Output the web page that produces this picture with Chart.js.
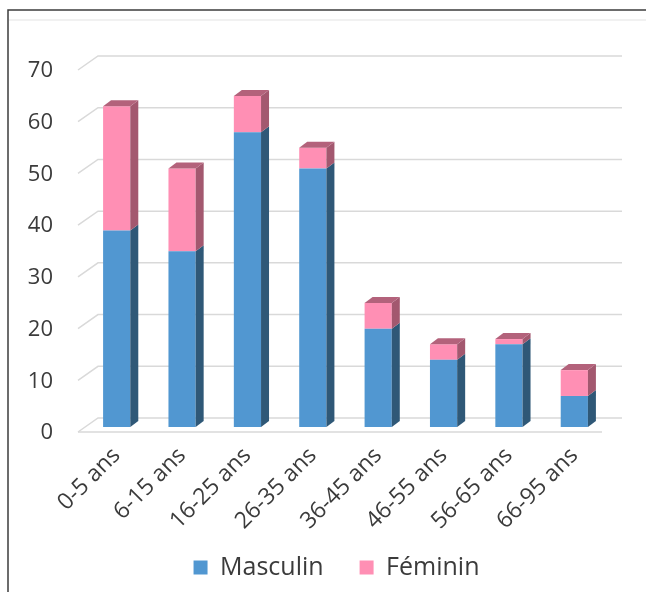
<!DOCTYPE html>
<html lang="fr">
<head>
<meta charset="utf-8">
<title>Répartition par âge et sexe</title>
<script src="https://cdn.jsdelivr.net/npm/chart.js@4.4.1/dist/chart.umd.min.js"></script>
<style>
  html, body { margin: 0; padding: 0; background: #ffffff; }
  #wrap { width: 646px; height: 592px; position: relative; }
</style>
</head>
<body>
<div id="wrap"><canvas id="ageChart" width="646" height="592"></canvas></div>
<script>
// Data
const categories = ["0-5 ans", "6-15 ans", "16-25 ans", "26-35 ans", "36-45 ans", "46-55 ans", "56-65 ans", "66-95 ans"];
const masculin = [38, 34, 57, 50, 19, 13, 16, 6];
const feminin = [24, 16, 7, 4, 5, 3, 1, 5];
const yTicks = [0, 10, 20, 30, 40, 50, 60, 70];

const TEXT_COLOR = "#3b3b3b";
const FONT = "'Open Sans', 'DejaVu Sans', sans-serif";

// colours for the fake 3D faces
const sideColors = ["#2f5877", "#a3586f"];
const topColor = "#b3627b";

// Draws the frame, the back wall grid and the y labels, then the bar sides
const depthPlugin = {
  id: "depth3d",
  afterLayout(chart) {
    // legend sits a bit right of centre and a little higher in the original
    const lg = chart.legend;
    if (lg) {
      lg.left += 33;
      lg.right += 33;
      lg.top -= 14;
      lg.bottom -= 14;
    }
  },
  beforeDraw(chart) {
    const ctx = chart.ctx;
    ctx.save();
    // thin light line under the frame
    ctx.strokeStyle = "#ededed";
    ctx.lineWidth = 1.5;
    ctx.beginPath();
    ctx.moveTo(9, 20);
    ctx.lineTo(646, 20);
    ctx.stroke();
    // frame
    ctx.strokeStyle = "#3c3c3c";
    ctx.lineWidth = 1.5;
    ctx.beginPath();
    ctx.moveTo(646, 10);
    ctx.lineTo(8, 10);
    ctx.lineTo(8, 592);
    ctx.stroke();
    ctx.restore();
  },
  beforeDatasetsDraw(chart) {
    const { ctx, chartArea } = chart;
    const yScale = chart.scales.y;
    const { left, right } = chartArea;
    ctx.save();
    ctx.strokeStyle = "#d9d9d9";
    ctx.lineWidth = 1.5;
    yTicks.forEach((v) => {
      const y = yScale.getPixelForValue(v);
      ctx.beginPath();
      ctx.moveTo(left - 6, y + 5);
      ctx.lineTo(left + 14, y - 9);
      ctx.lineTo(right + 15, y - 9);
      ctx.stroke();
      if (v === 0) {
        // front edge of the floor
        ctx.beginPath();
        ctx.moveTo(left - 6, y + 5);
        ctx.lineTo(right - 5, y + 5);
        ctx.stroke();
      }
    });
    // y labels sit on the front plane
    ctx.fillStyle = TEXT_COLOR;
    ctx.font = "22px " + FONT;
    ctx.textAlign = "right";
    ctx.textBaseline = "middle";
    yTicks.forEach((v) => {
      ctx.fillText(String(v), 53, yScale.getPixelForValue(v) + 6);
    });
    ctx.restore();
  },
  afterDatasetsDraw(chart) {
    const ctx = chart.ctx;
    const dx = 8, dy = 6;
    const last = chart.data.datasets.length - 1;
    ctx.save();
    chart.data.datasets.forEach((ds, i) => {
      const meta = chart.getDatasetMeta(i);
      meta.data.forEach((bar) => {
        const { x, y, base, width } = bar.getProps(["x", "y", "base", "width"], true);
        const l = x - width / 2;
        const r = x + width / 2;
        // side face
        ctx.fillStyle = sideColors[i];
        ctx.beginPath();
        ctx.moveTo(r, y);
        ctx.lineTo(r + dx, y - dy);
        ctx.lineTo(r + dx, base - dy);
        ctx.lineTo(r, base);
        ctx.closePath();
        ctx.fill();
        // top face only on the upper segment
        if (i === last) {
          ctx.fillStyle = topColor;
          ctx.beginPath();
          ctx.moveTo(l, y);
          ctx.lineTo(l + dx, y - dy);
          ctx.lineTo(r + dx, y - dy);
          ctx.lineTo(r, y);
          ctx.closePath();
          ctx.fill();
        }
      });
    });
    ctx.restore();
  },
};

function buildChart() {
  const canvas = document.getElementById("ageChart");
  const ctx = canvas.getContext("2d");

  return new Chart(ctx, {
    type: "bar",
    data: {
      labels: categories,
      datasets: [
        {
          label: "Masculin",
          data: masculin,
          backgroundColor: "#5197d1",
          borderWidth: 0,
        },
        {
          label: "Féminin",
          data: feminin,
          backgroundColor: "#ff8fb4",
          borderWidth: 0,
        },
      ],
    },
    options: {
      responsive: false,
      animation: false,
      events: [],
      barPercentage: 0.52,
      categoryPercentage: 0.8,
      layout: { padding: { top: 65, right: 39, bottom: 2, left: 0 } },
      scales: {
        x: {
          stacked: true,
          grid: { display: false },
          border: { display: false },
          ticks: {
            color: TEXT_COLOR,
            font: { family: FONT, size: 23 },
            minRotation: 45,
            maxRotation: 45,
            padding: 7,
          },
          afterFit(scale) {
            scale.height = 106;
          },
        },
        y: {
          stacked: true,
          min: 0,
          max: 70,
          grid: { display: false },
          border: { display: false },
          ticks: { display: false, stepSize: 10 },
          afterFit(scale) {
            scale.width = 84;
          },
        },
      },
      plugins: {
        legend: {
          position: "bottom",
          maxHeight: 57,
          labels: {
            color: TEXT_COLOR,
            font: { family: FONT, size: 25 },
            boxWidth: 14,
            boxHeight: 14,
            padding: 36,
          },
        },
        tooltip: { enabled: false },
      },
    },
    plugins: [depthPlugin],
  });
}

document.addEventListener("DOMContentLoaded", function () {
  buildChart();
});
</script>
</body>
</html>
